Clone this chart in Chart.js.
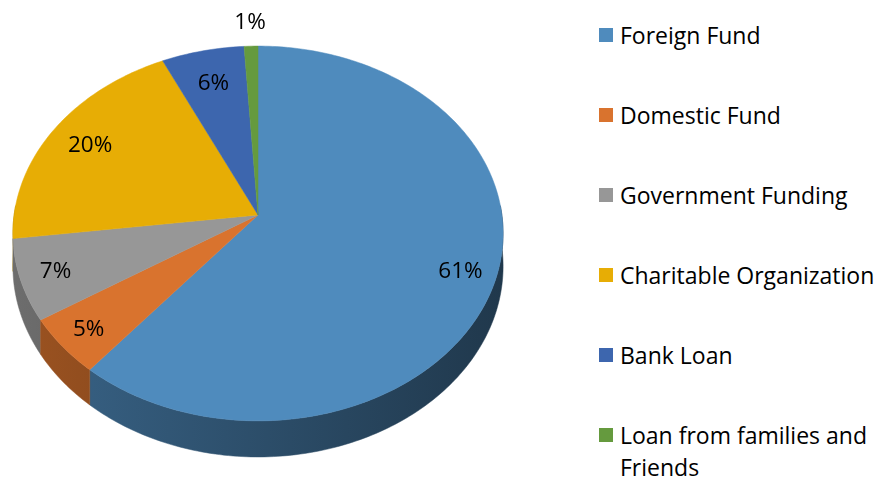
<!DOCTYPE html>
<html>
<head>
<meta charset="utf-8">
<script src="https://cdn.jsdelivr.net/npm/chart.js@4.4.1/dist/chart.umd.min.js"></script>
<style>
  body { margin: 0; background: #fff; width: 877px; height: 482px; overflow: hidden; position: relative; font-family: 'Open Sans', sans-serif; }
  #wrap { position: absolute; left: 0; top: 0; width: 516px; height: 482px; }
  #legend { position: absolute; left: 599px; top: 0; }
  .item { position: absolute; left: 0; width: 278px; line-height: 32px; font-size: 23px; color: #000; }
  .item .box { position: absolute; left: 0; top: 9px; width: 14px; height: 14px; }
  .item .txt { position: absolute; left: 21px; top: 0; width: 257px; }
</style>
</head>
<body>
<div id="wrap"><canvas id="fund_pie"></canvas></div>
<div id="legend"></div>
<script>
const sources = ['Foreign Fund', 'Domestic Fund', 'Government Funding', 'Charitable Organization', 'Bank Loan', 'Loan from families and Friends'];
const shares = [61, 5, 7, 20, 6, 1];
const slice_colors = ['#4f8bbd', '#d9732e', '#979797', '#e7ad05', '#3d66ae', '#659a3e'];

// perspective tilt of the pie plane
const K = 0.0987;

function shade(hex, f) {
    let n = parseInt(hex.slice(1), 16);
    let r = Math.round(((n >> 16) & 255) * f), g = Math.round(((n >> 8) & 255) * f), b = Math.round((n & 255) * f);
    return 'rgb(' + r + ',' + g + ',' + b + ')';
}

const pie3d = {
    id: 'pie3d',
    beforeDatasetsDraw(chart) {
        const ctx = chart.ctx;
        const meta = chart.getDatasetMeta(0);
        const arcs = meta.data;
        const R = arcs[0].outerRadius;
        const cx = arcs[0].x, cy = arcs[0].y - 0.108 * R;
        const A = 1.012 * R, B = 0.77 * R, H = 0.135 * R;

        function proj(a, r, h) {
            let u = r * Math.cos(a), v = -r * Math.sin(a);
            let w = 1 + K * v;
            return [cx + A * u / w, cy - B * v / w + H * h / w];
        }

        // side walls, back to front
        let order = arcs.map((el, i) => i);
        order.sort((i, j) => {
            let mi = (arcs[i].startAngle + arcs[i].endAngle) / 2, mj = (arcs[j].startAngle + arcs[j].endAngle) / 2;
            return Math.sin(mi) - Math.sin(mj);
        });
        order.forEach(i => {
            let el = arcs[i];
            let s = Math.max(el.startAngle, -0.05), e = Math.min(el.endAngle, Math.PI + 0.05);
            if (e <= s) return;
            let steps = Math.max(4, Math.ceil((e - s) * 60));
            ctx.beginPath();
            for (let k = 0; k <= steps; k++) {
                let p = proj(s + (e - s) * k / steps, 1, 0);
                k ? ctx.lineTo(p[0], p[1]) : ctx.moveTo(p[0], p[1]);
            }
            for (let k = steps; k >= 0; k--) {
                let p = proj(s + (e - s) * k / steps, 1, 1);
                ctx.lineTo(p[0], p[1]);
            }
            ctx.closePath();
            let grad = ctx.createLinearGradient(cx - A, 0, cx + A, 0);
            grad.addColorStop(0, shade(slice_colors[i], 0.72));
            grad.addColorStop(1, shade(slice_colors[i], 0.4));
            ctx.fillStyle = grad;
            ctx.strokeStyle = grad;
            ctx.lineWidth = 0.5;
            ctx.fill();
            ctx.stroke();
        });

        // top faces
        arcs.forEach((el, i) => {
            let s = el.startAngle, e = el.endAngle;
            let steps = Math.max(4, Math.ceil((e - s) * 60));
            ctx.beginPath();
            let c = proj(0, 0, 0);
            ctx.moveTo(c[0], c[1]);
            for (let k = 0; k <= steps; k++) {
                let p = proj(s + (e - s) * k / steps, 1, 0);
                ctx.lineTo(p[0], p[1]);
            }
            ctx.closePath();
            ctx.fillStyle = slice_colors[i];
            ctx.strokeStyle = slice_colors[i];
            ctx.lineWidth = 0.5;
            ctx.fill();
            ctx.stroke();
        });

        // percentage labels
        ctx.fillStyle = '#000';
        ctx.font = "22.5px 'Open Sans', sans-serif";
        ctx.textAlign = 'center';
        ctx.textBaseline = 'middle';
        arcs.forEach((el, i) => {
            let mid = (el.startAngle + el.endAngle) / 2;
            let r = shares[i] < 3 ? 1.16 : 0.84 + 0.05 * Math.sin(mid);
            let p = proj(mid, r, 0);
            ctx.fillText(shares[i] + '%', p[0], p[1] + 1);
        });
        return false;
    }
};

let pie_chart = new Chart(document.getElementById('fund_pie'), {
    type: 'pie',
    data: {
        labels: sources,
        datasets: [{
            data: shares,
            backgroundColor: slice_colors,
            borderWidth: 0
        }]
    },
    options: {
        responsive: true,
        maintainAspectRatio: false,
        animation: false,
        layout: { padding: 0 },
        plugins: {
            legend: { display: false },
            tooltip: { enabled: false }
        }
    },
    plugins: [pie3d]
});

// legend on the right
let legend = document.getElementById('legend');
pie_chart.data.labels.forEach((name, i) => {
    let item = document.createElement('div');
    item.className = 'item';
    item.style.top = (19 + i * 80) + 'px';
    item.innerHTML = '<span class="box" style="background:' + slice_colors[i] + '"></span><span class="txt">' + name + '</span>';
    legend.appendChild(item);
});
</script>
</body>
</html>
